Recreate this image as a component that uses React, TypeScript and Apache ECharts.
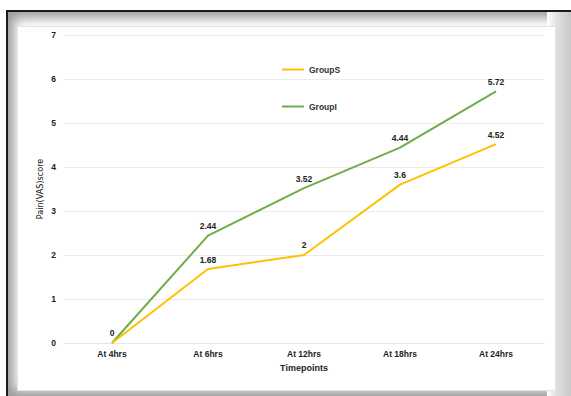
import React, { useEffect, useRef } from "react";
import * as echarts from "echarts";

const categories = ["At 4hrs", "At 6hrs", "At 12hrs", "At 18hrs", "At 24hrs"];
const groupS = [0, 1.68, 2, 3.6, 4.52];
const groupI = [0, 2.44, 3.52, 4.44, 5.72];
const seriesNames = ["GroupS", "GroupI"];
const yAxisTitle = "Pain(VAS)score";

const FONT = "'Liberation Sans', Arial, sans-serif";

export default function App() {
  const ref = useRef<HTMLDivElement>(null);
  useEffect(() => {
    if (!ref.current) return;
    const chart = echarts.init(ref.current, undefined, { renderer: "svg" });
    const labelStyle = {
      show: true,
      position: "top" as const,
      distance: 5,
      fontSize: 8.5,
      fontWeight: "bold" as const,
      color: "#222",
      fontFamily: FONT,
    };
    chart.setOption({
      animation: false,
      backgroundColor: "transparent",
      grid: { left: 64, right: 27, top: 35, bottom: 53 },
      graphic: [
        {
          type: "text",
          x: 40,
          y: 189,
          rotation: Math.PI / 2,
          style: {
            text: yAxisTitle,
            fontSize: 9,
            fill: "#111",
            align: "center",
            verticalAlign: "middle",
            fontFamily: "'Liberation Sans Narrow', 'DejaVu Sans Condensed', 'Liberation Sans', sans-serif",
          },
        },
      ],
      legend: {
        orient: "vertical",
        left: 277,
        top: 60,
        itemGap: 28,
        itemWidth: 22,
        itemHeight: 2,
        icon: "rect",
        data: seriesNames,
        textStyle: { fontSize: 8.5, fontWeight: "bold", color: "#333", fontFamily: FONT },
      },
      xAxis: {
        type: "category",
        data: categories,
        boundaryGap: true,
        name: "Timepoints",
        nameLocation: "middle",
        nameGap: 20,
        nameTextStyle: { fontSize: 9, fontWeight: "bold", color: "#222", fontFamily: FONT },
        axisLine: { show: true, lineStyle: { color: "#e6e6e6", width: 1 } },
        axisTick: { show: false },
        axisLabel: { fontSize: 8.5, fontWeight: "bold", color: "#222", margin: 6, fontFamily: FONT },
      },
      yAxis: {
        type: "value",
        min: 0,
        max: 7,
        interval: 1,
        axisLine: { show: false },
        axisTick: { show: false },
        axisLabel: { fontSize: 8.5, fontWeight: "bold", color: "#222", margin: 8, fontFamily: FONT },
        splitLine: { lineStyle: { color: "#ebebeb", width: 1 } },
      },
      series: [
        {
          name: seriesNames[0],
          type: "line",
          data: groupS,
          color: "#FFC000",
          lineStyle: { width: 2, color: "#FFC000" },
          symbol: "circle",
          symbolSize: 0.1,
          showSymbol: true,
          label: labelStyle,
          z: 3,
        },
        {
          name: seriesNames[1],
          type: "line",
          data: groupI,
          color: "#70AD47",
          lineStyle: { width: 2, color: "#70AD47" },
          symbol: "circle",
          symbolSize: 0.1,
          showSymbol: true,
          label: { ...labelStyle, formatter: (p: any) => (p.value === 0 ? "" : String(p.value)) },
          z: 2,
        },
      ],
    });
    return () => chart.dispose();
  }, []);

  return (
    <div style={{ position: "fixed", left: 0, top: 0, width: 571, height: 396, background: "#fff", overflow: "hidden" }}>
      <div
        style={{
          position: "absolute",
          left: 6,
          top: 10,
          width: 580,
          height: 386,
          borderTop: "2px solid #1a1a1a",
          borderLeft: "2px solid #1a1a1a",
          boxSizing: "border-box",
          background: "#fff",
          boxShadow: "inset 0 0 12px 6px rgba(0,0,0,0.4)",
        }}
      />
      <div
        style={{
          position: "absolute",
          left: 547,
          top: 12,
          width: 24,
          height: 384,
          background: "linear-gradient(to right, #fff 0%, #e0e0e0 40%, #c8c8c8 100%)",
        }}
      />
      <div
        style={{
          position: "absolute",
          left: 17,
          top: 26,
          width: 539,
          height: 365,
          border: "1px solid #e2e2e2",
          boxSizing: "border-box",
          background: "#fff",
        }}
      />
      <div ref={ref} style={{ position: "absolute", left: 0, top: 0, width: 571, height: 396 }} />
    </div>
  );
}
